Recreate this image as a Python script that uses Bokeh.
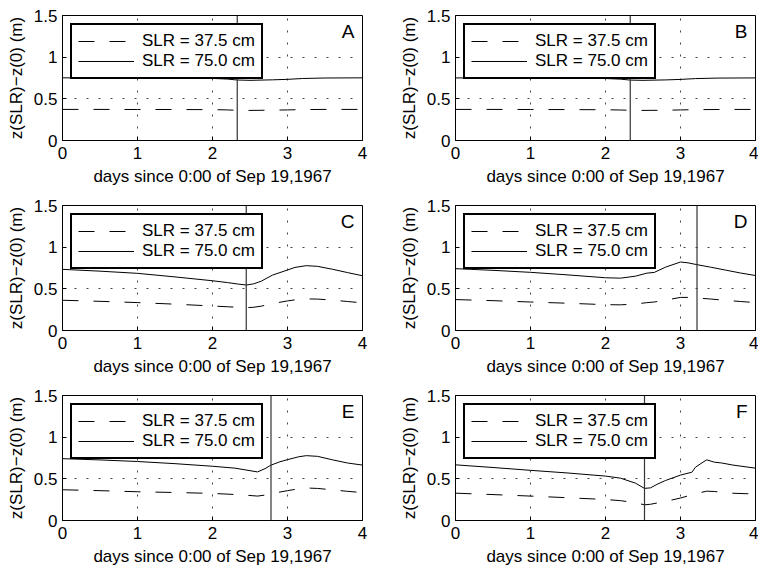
from bokeh.plotting import figure
from bokeh.models import Legend, LegendItem, Label, Span, FixedTicker, Range1d
from bokeh.layouts import column, row
from bokeh.embed import file_html
from bokeh.resources import INLINE

# ---------------- data ----------------
panel_names = ["A", "B", "C", "D", "E", "F"]
marker_days = [2.33, 2.33, 2.45, 3.22, 2.78, 2.52]
legend_labels = ["SLR = 37.5 cm", "SLR = 75.0 cm"]
x_ticks = [0, 1, 2, 3, 4]
y_ticks = [0, 0.5, 1, 1.5]
y_tick_labels = ["0", "0.5", "1", "1.5"]
x_label = "days since 0:00 of Sep 19,1967"
y_label = "z(SLR)\u2212z(0) (m)"

days_A = [0, 0.5, 1.0, 1.5, 2.0, 2.2, 2.33, 2.5, 2.8, 3.0, 3.2, 3.5, 4.0]
slr75_A = [0.752, 0.752, 0.751, 0.750, 0.745, 0.737, 0.726, 0.722, 0.728, 0.734, 0.744, 0.750, 0.752]
slr375_A = [0.373, 0.373, 0.372, 0.372, 0.370, 0.367, 0.362, 0.361, 0.364, 0.367, 0.371, 0.373, 0.373]

days_B = [0, 0.5, 1.0, 1.5, 2.0, 2.2, 2.33, 2.5, 2.8, 3.0, 3.2, 3.5, 4.0]
slr75_B = [0.751, 0.751, 0.750, 0.749, 0.744, 0.736, 0.725, 0.722, 0.727, 0.733, 0.743, 0.749, 0.751]
slr375_B = [0.373, 0.373, 0.372, 0.371, 0.369, 0.366, 0.362, 0.361, 0.363, 0.367, 0.370, 0.372, 0.373]

days_C = [0, 0.5, 1.0, 1.5, 2.0, 2.2, 2.35, 2.45, 2.55, 2.65, 2.8, 3.0, 3.1, 3.25, 3.4, 3.6, 3.8, 4.0]
slr75_C = [0.734, 0.712, 0.686, 0.643, 0.597, 0.575, 0.556, 0.546, 0.560, 0.592, 0.665, 0.726, 0.757, 0.778, 0.770, 0.735, 0.695, 0.657]
slr375_C = [0.363, 0.350, 0.335, 0.316, 0.294, 0.285, 0.278, 0.274, 0.279, 0.292, 0.323, 0.355, 0.368, 0.379, 0.377, 0.365, 0.348, 0.332]

days_D = [0, 0.5, 1.0, 1.5, 2.0, 2.2, 2.4, 2.55, 2.65, 2.8, 3.0, 3.1, 3.22, 3.4, 3.6, 3.8, 4.0]
slr75_D = [0.742, 0.722, 0.698, 0.667, 0.633, 0.628, 0.652, 0.688, 0.697, 0.760, 0.822, 0.812, 0.790, 0.760, 0.725, 0.690, 0.660]
slr375_D = [0.371, 0.358, 0.342, 0.327, 0.310, 0.308, 0.318, 0.334, 0.342, 0.365, 0.397, 0.397, 0.390, 0.378, 0.362, 0.348, 0.335]

days_E = [0, 0.5, 1.0, 1.5, 2.0, 2.3, 2.5, 2.6, 2.7, 2.78, 2.9, 3.0, 3.15, 3.25, 3.4, 3.6, 3.8, 4.0]
slr75_E = [0.742, 0.727, 0.708, 0.682, 0.651, 0.628, 0.598, 0.583, 0.622, 0.665, 0.705, 0.730, 0.765, 0.778, 0.770, 0.728, 0.690, 0.665]
slr375_E = [0.369, 0.358, 0.345, 0.336, 0.325, 0.312, 0.300, 0.293, 0.305, 0.320, 0.342, 0.358, 0.380, 0.390, 0.385, 0.368, 0.350, 0.335]

days_F = [0, 0.5, 1.0, 1.5, 2.0, 2.2, 2.4, 2.52, 2.6, 2.7, 2.8, 3.0, 3.1, 3.15, 3.2, 3.3, 3.35, 3.45, 3.55, 3.7, 4.0]
slr75_F = [0.668, 0.636, 0.602, 0.570, 0.533, 0.508, 0.448, 0.385, 0.392, 0.440, 0.480, 0.545, 0.568, 0.578, 0.640, 0.700, 0.728, 0.700, 0.690, 0.665, 0.628]
slr375_F = [0.328, 0.311, 0.293, 0.273, 0.252, 0.238, 0.213, 0.188, 0.195, 0.212, 0.228, 0.270, 0.295, 0.308, 0.322, 0.342, 0.352, 0.348, 0.340, 0.327, 0.318]

panel_days = [days_A, days_B, days_C, days_D, days_E, days_F]
panel_75 = [slr75_A, slr75_B, slr75_C, slr75_D, slr75_E, slr75_F]
panel_375 = [slr375_A, slr375_B, slr375_C, slr375_D, slr375_E, slr375_F]

FONT = "Liberation Sans"
FS = "17px"


def make_panel(i):
    left_col = (i % 2 == 0)
    last_row = (i >= 4)
    p = figure(
        frame_width=300, frame_height=125,
        min_border_left=62, min_border_right=31 if left_col else 3,
        min_border_top=15, min_border_bottom=49 if last_row else 50,
        x_range=Range1d(0, 4), y_range=Range1d(0, 1.5),
        output_backend="svg", toolbar_location=None,
        background_fill_color="white", border_fill_color="white",
    )
    p.outline_line_color = "black"
    p.outline_line_width = 1

    for ax in (p.xaxis[0], p.yaxis[0]):
        ax.major_tick_in = 4
        ax.major_tick_out = 0
        ax.minor_tick_line_color = None
        ax.axis_line_color = "black"
        ax.major_tick_line_color = "black"
        ax.major_label_text_font = FONT
        ax.major_label_text_font_size = FS
        ax.major_label_text_color = "black"
        ax.axis_label_text_font = FONT
        ax.axis_label_text_font_size = FS
        ax.axis_label_text_font_style = "normal"
        ax.axis_label_text_color = "black"
    p.xaxis.ticker = FixedTicker(ticks=x_ticks)
    p.yaxis.ticker = FixedTicker(ticks=y_ticks)
    p.yaxis.major_label_overrides = {t: s for t, s in zip(y_ticks, y_tick_labels)}
    p.xaxis.axis_label = x_label
    p.yaxis.axis_label = y_label
    p.xaxis.major_label_standoff = 6
    p.xaxis.axis_label_standoff = 5
    p.yaxis.major_label_standoff = 5
    p.yaxis.axis_label_standoff = 5

    for g in (p.xgrid, p.ygrid):
        g.grid_line_color = "#444444"
        g.grid_line_dash = "2 10"
        g.grid_line_width = 1
    p.xgrid.ticker = FixedTicker(ticks=x_ticks)
    p.ygrid.ticker = FixedTicker(ticks=y_ticks)

    r_dash = p.line(panel_days[i], panel_375[i], line_color="black", line_width=1, line_dash="16 15")
    r_solid = p.line(panel_days[i], panel_75[i], line_color="black", line_width=1)

    p.add_layout(Span(location=marker_days[i], dimension="height", line_color="#333333", line_width=1.2))

    legend = Legend(
        items=[LegendItem(label=legend_labels[0], renderers=[r_dash]),
               LegendItem(label=legend_labels[1], renderers=[r_solid])],
        location="top_left", margin=8, padding=6, spacing=0,
        glyph_width=56, glyph_height=20, label_height=20, label_standoff=8,
        label_text_font=FONT, label_text_font_size=FS, label_text_color="black",
        border_line_color="black", border_line_width=2, border_line_alpha=1.0,
        background_fill_color="white", background_fill_alpha=1.0,
    )
    p.add_layout(legend, "center")

    p.add_layout(Label(x=4, y=1.5, x_offset=-8, y_offset=-5, text=panel_names[i],
                       text_align="right", text_baseline="top",
                       text_font=FONT, text_font_size="19px", text_color="black"))
    return p


panels = [make_panel(i) for i in range(6)]
layout = column(row(panels[0], panels[1]), row(panels[2], panels[3]), row(panels[4], panels[5]))

open("out.html", "w").write(file_html(layout, INLINE))
